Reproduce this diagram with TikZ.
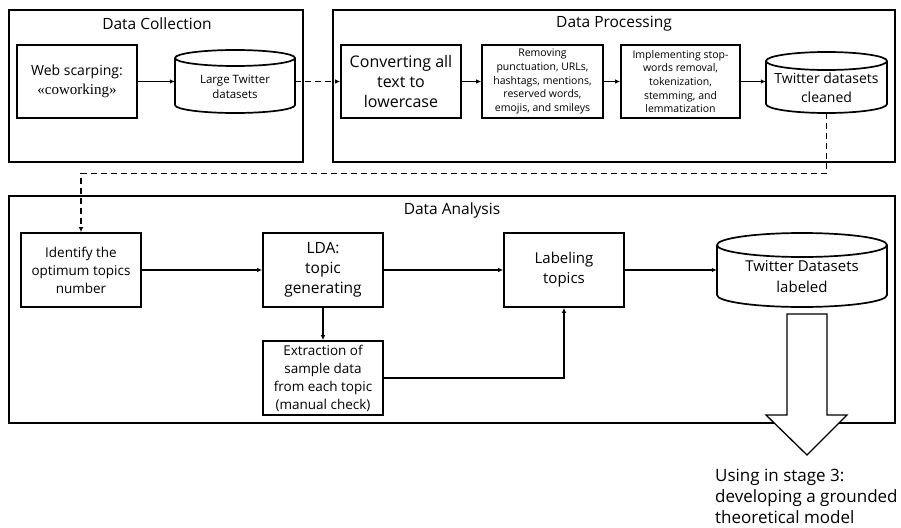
\documentclass[tikz,border=0pt]{standalone}
\usepackage{fontspec}
\setmainfont{Open Sans}
\newfontfamily\serifx{Liberation Serif}
\usetikzlibrary{arrows.meta}
\newcommand{\fsz}[1]{\fontsize{#1}{1.25\dimexpr #1pt\relax}\selectfont}
\begin{document}
\begin{tikzpicture}[x=1pt,y=-1pt,
  box/.style={draw, line width=1.7pt, align=center, inner sep=0pt},
  frame/.style={draw, line width=1.7pt},
  cylbody/.style={inner sep=0pt},
  arr/.style={-{Latex[length=5pt,width=4.5pt]}, line width=1.2pt},
  dsh/.style={arr, dash pattern=on 6pt off 4pt},
  title/.style={font=\fsz{15.5}}]
\useasboundingbox (0,0) rectangle (901,527);

% ---- Frames ----
\draw[frame] (9,10) rectangle (303,162);
\node[title] (tcol) at (157,24) {Data Collection};
\draw[frame] (333,10) rectangle (895,162);
\node[title] (tproc) at (614,24) {Data Processing};
\draw[frame] (9,196) rectangle (895,423);
\node[title] (tana) at (452,210) {Data Analysis};

% ---- Data Collection ----
\node[box, minimum width=120pt, minimum height=73pt, font=\fontsize{14}{19}\selectfont] (web) at (77,81.5)
  {Web scarping:\\{\serifx\fontsize{15}{19}\selectfont «coworking»}};
\node[cylbody, minimum width=120pt, minimum height=63pt] (ltd) at (235,81.5) {};
\draw[frame] (175,58) -- (175,105) arc[start angle=180, end angle=360, x radius=60pt, y radius=8pt] -- (295,58);
\draw[frame] (235,58) ellipse[x radius=60pt, y radius=8pt];
\node[align=center, font=\fontsize{11.5}{15}\selectfont] (ltdt) at (235,87) {Large Twitter\\datasets};

% ---- Data Processing ----
\node[box, minimum width=120pt, minimum height=73pt, font=\fontsize{16}{20}\selectfont] (conv) at (401,81.5)
  {Converting all\\text to\\lowercase};
\node[box, minimum width=121pt, minimum height=73pt, font=\fontsize{10.5}{13.7}\selectfont] (rem) at (542.5,81.5)
  {Removing\\punctuation, URLs,\\hashtags, mentions,\\reserved words,\\emojis, and smileys};
\node[box, minimum width=119pt, minimum height=73pt, font=\fontsize{10.5}{13.7}\selectfont] (impl) at (680.5,81.5)
  {Implementing stop-\\words removal,\\tokenization,\\stemming, and\\lemmatization};
\node[cylbody, minimum width=121pt, minimum height=61pt] (cln) at (826.5,82.5) {};
\draw[frame] (766,61) -- (766,104) arc[start angle=180, end angle=360, x radius=60.5pt, y radius=9pt] -- (887,61);
\draw[frame] (826.5,61) ellipse[x radius=60.5pt, y radius=9pt];
\node[align=center, font=\fontsize{14}{19}\selectfont] (clnt) at (826.5,88) {Twitter datasets\\cleaned};

% ---- Data Analysis ----
\node[box, minimum width=120pt, minimum height=74pt, font=\fontsize{13.5}{18}\selectfont] (ident) at (81,270)
  {Identify the\\optimum topics\\number};
\node[box, minimum width=120pt, minimum height=74pt, font=\fontsize{15.5}{20}\selectfont] (lda) at (323,270)
  {LDA:\\topic\\generating};
\node[box, minimum width=120pt, minimum height=74pt, font=\fontsize{13.5}{18}\selectfont] (ext) at (323,378)
  {Extraction of\\sample data\\from each topic\\(manual check)};
\node[box, minimum width=120pt, minimum height=74pt, font=\fontsize{15}{20}\selectfont] (lab) at (564,270)
  {Labeling\\topics};
\node[cylbody, minimum width=170pt, minimum height=74pt] (lcy) at (802,270) {};
\draw[frame] (717,245) -- (717,295) arc[start angle=180, end angle=360, x radius=85pt, y radius=12pt] -- (887,245);
\draw[frame] (802,245) ellipse[x radius=85pt, y radius=12pt];
\node[align=center, font=\fontsize{15}{21}\selectfont] (lcyt) at (802,277) {Twitter Datasets\\labeled};

% ---- Connectors ----
\draw[arr] (web) -- (ltd);
\draw[dsh] (ltd) -- (conv);
\draw[arr] (conv) -- (rem);
\draw[arr] (rem) -- (impl);
\draw[arr] (impl.east) -- (impl.east -| cln.west);
\draw[dsh] (cln.south) -- ++(0,60) -| (ident.north);
\draw[arr] (ident) -- (lda);
\draw[arr] (lda) -- (lab);
\draw[arr] (lab) -- (lcy);
\draw[arr] (lda) -- (ext);
\draw[arr] (ext.east) -| (lab.south);

% ---- Block arrow ----
\draw[line width=1.3pt, fill=white] (787,314) -- (827,314) -- (827,415) -- (847,415)
  -- (807,455) -- (766,415) -- (787,415) -- cycle;
\node[anchor=north west, align=left, inner sep=0pt, font=\fontsize{17}{21}\selectfont] (use) at (715,469)
  {Using in stage 3:\\developing a grounded\\theoretical model};
\end{tikzpicture}
\end{document}
